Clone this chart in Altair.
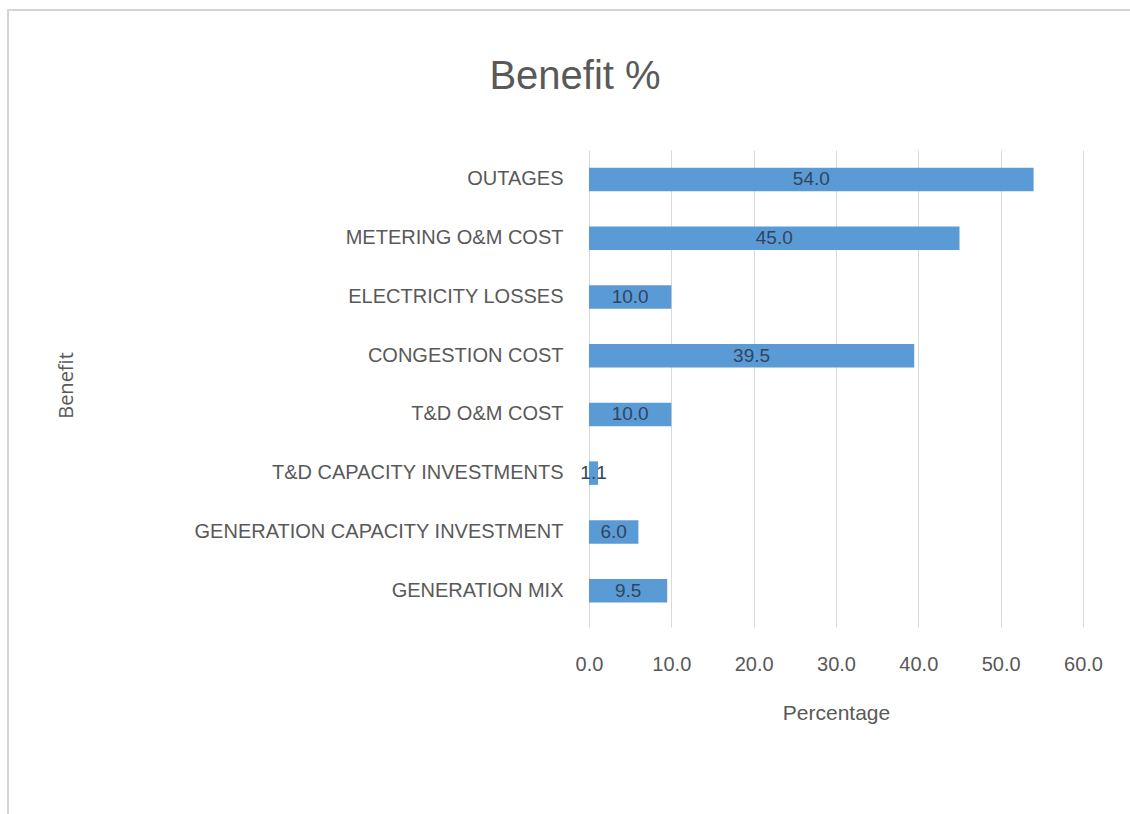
import altair as alt
import pandas as pd

benefits = [
    "OUTAGES",
    "METERING O&M COST",
    "ELECTRICITY LOSSES",
    "CONGESTION COST",
    "T&D O&M COST",
    "T&D CAPACITY INVESTMENTS",
    "GENERATION CAPACITY INVESTMENT",
    "GENERATION MIX",
]
percentages = [54.0, 45.0, 10.0, 39.5, 10.0, 1.1, 6.0, 9.5]

df = pd.DataFrame({"Benefit": benefits, "Percentage": percentages})

FONT = "Liberation Sans, Arial, sans-serif"

base = alt.Chart(df).encode(
    y=alt.Y(
        "Benefit:N",
        sort=benefits,
        scale=alt.Scale(paddingInner=0.6, paddingOuter=0.3),
        axis=alt.Axis(
            title="Benefit",
            titleFont="Open Sans",
            titleFontSize=20,
            titleFontWeight="normal",
            titleColor="#595959",
            titleX=-513,
            titleY=235,
            titleAngle=-90,
            labelFont=FONT,
            labelFontSize=20,
            labelColor="#595959",
            labelPadding=26,
            labelLimit=0,
            ticks=False,
            domain=False,
            grid=False,
        ),
    ),
)

bars = base.mark_bar(color="#5b9bd5").encode(
    x=alt.X(
        "Percentage:Q",
        scale=alt.Scale(domain=[0, 60], nice=False),
        axis=alt.Axis(
            title="Percentage",
            titleFont=FONT,
            titleFontSize=21,
            titleFontWeight="normal",
            titleColor="#595959",
            titlePadding=28,
            values=[0, 10, 20, 30, 40, 50, 60],
            format=".1f",
            labelFont=FONT,
            labelFontSize=20,
            labelColor="#595959",
            labelPadding=27,
            labelFlush=False,
            ticks=True,
            tickSize=7,
            tickColor="#d9d9d9",
            domain=False,
            grid=True,
            gridColor="#d9d9d9",
            gridWidth=1,
        ),
    ),
)

labels = base.mark_text(
    font=FONT, fontSize=19, color="#2f4560", align="center", baseline="middle"
).encode(
    x=alt.X("mid:Q"),
    text=alt.Text("Percentage:Q", format=".1f"),
).transform_calculate(mid="datum.Percentage / 2")

frame_df = pd.DataFrame({"k": [0]})
top_border = alt.Chart(frame_df).mark_rule(color="#d4d4d4", strokeWidth=2).encode(
    x=alt.value(-581), x2=alt.value(545), y=alt.value(-140)
)
left_border = alt.Chart(frame_df).mark_rule(color="#d4d4d4", strokeWidth=2).encode(
    x=alt.value(-581), y=alt.value(-141), y2=alt.value(670)
)

chart = (
    alt.layer(bars, labels, top_border, left_border)
    .properties(
        width=494,
        height=470,
        background="white",
        title=alt.TitleParams(
            "Benefit %",
            font=FONT,
            fontSize=40,
            fontWeight="normal",
            color="#595959",
            anchor="middle",
            frame="bounds",
            offset=0,
            dy=89,
            dx=4,
        ),
        autosize=alt.AutoSizeParams(type="none"),
        padding={"left": 589, "top": 150, "right": 47, "bottom": 194},
    )
    .configure_view(strokeWidth=0, stroke="transparent")
)

chart.save("out.html", embed_options={"renderer": "svg", "actions": False})
